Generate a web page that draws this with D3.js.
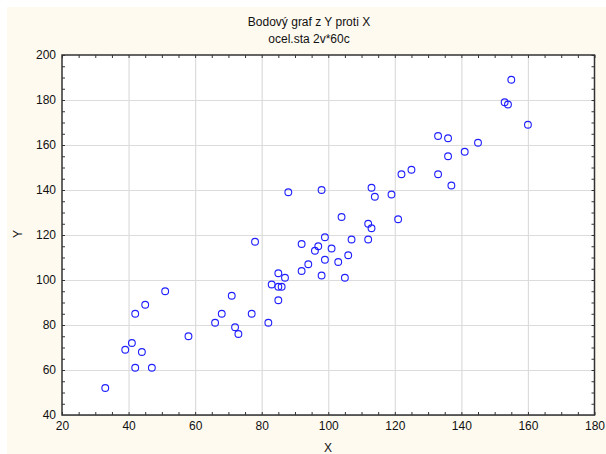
<!DOCTYPE html>
<html><head><meta charset="utf-8">
<script src="https://cdn.jsdelivr.net/npm/d3@7"></script>
<style>body{margin:0;background:#fff}svg{display:block}text{font-family:"Liberation Sans",Arial,sans-serif}</style>
</head><body><svg id="c" width="606" height="454"></svg>
<script>
const xValues=[33,39,41,42,42,44,45,47,51,58,66,68,71,72,73,77,
88,98,113,114,104,112,113,78,92,99,97,96,101,107,112,99,103,106,94,92,98,105,85,87,83,85,86,85,82,
155,153,154,160,133,136,145,141,136,125,122,133,137,119,121];
const yValues=[52,69,72,61,85,68,89,61,95,75,81,85,93,79,76,85,
139,140,141,137,128,125,123,117,116,119,115,113,114,118,118,109,108,111,107,104,102,101,103,101,98,97,97,91,81,
189,179,178,169,164,163,161,157,155,149,147,147,142,138,127];
const xTicks=[20,40,60,80,100,120,140,160,180];
const yTicks=[40,60,80,100,120,140,160,180,200];
const titleLines=["Bodový graf z Y proti X","ocel.sta 2v*60c"];
const xLabel="X", yLabel="Y";

const svg=d3.select("#c");
const L=62,R=594.5,T=55,B=415;
svg.append("rect").attr("x",7).attr("y",7).attr("width",599).attr("height",447).attr("fill","#fefaf0");
svg.append("rect").attr("x",L).attr("y",T).attr("width",R-L).attr("height",B-T).attr("fill","#fff");
const x=d3.scaleLinear().domain([20,180]).range([L,R]);
const y=d3.scaleLinear().domain([40,200]).range([B,T]);
const minorX=d3.range(20,181,5), minorY=d3.range(40,201,5);

// grid
svg.append("g").attr("transform",`translate(0,${B})`)
 .call(d3.axisBottom(x).tickValues(xTicks.slice(1,-1)).tickSize(-(B-T)).tickFormat(""))
 .call(g=>{g.select(".domain").remove();g.selectAll("line").attr("stroke","#dcdcdc").attr("stroke-width",1.2);});
svg.append("g").attr("transform",`translate(${L},0)`)
 .call(d3.axisLeft(y).tickValues(yTicks.slice(1,-1)).tickSize(-(R-L)).tickFormat(""))
 .call(g=>{g.select(".domain").remove();g.selectAll("line").attr("stroke","#dcdcdc").attr("stroke-width",1.2);});

// inward minor ticks on all sides
function st(g){g.select(".domain").remove();g.selectAll("line").attr("stroke","#333");}
svg.append("g").attr("transform",`translate(0,${B})`).call(d3.axisBottom(x).tickValues(minorX).tickSize(-3).tickFormat("")).call(st);
svg.append("g").attr("transform",`translate(0,${T})`).call(d3.axisTop(x).tickValues(minorX).tickSize(-3).tickFormat("")).call(st);
svg.append("g").attr("transform",`translate(${L},0)`).call(d3.axisLeft(y).tickValues(minorY).tickSize(-3).tickFormat("")).call(st);
svg.append("g").attr("transform",`translate(${R},0)`).call(d3.axisRight(y).tickValues(minorY).tickSize(-3).tickFormat("")).call(st);

// labels
svg.append("g").attr("transform",`translate(0,${B})`)
 .call(d3.axisBottom(x).tickValues(xTicks).tickSize(0).tickPadding(6))
 .call(g=>{g.select(".domain").remove();g.selectAll("text").attr("font-size",12).attr("fill","#111").style("font-family","Liberation Sans, Arial, sans-serif");});
svg.append("g").attr("transform",`translate(${L},0)`)
 .call(d3.axisLeft(y).tickValues(yTicks).tickSize(0).tickPadding(6))
 .call(g=>{g.select(".domain").remove();g.selectAll("text").attr("font-size",12).attr("fill","#111").style("font-family","Liberation Sans, Arial, sans-serif");});

// frame
svg.append("rect").attr("x",L).attr("y",T).attr("width",R-L).attr("height",B-T).attr("fill","none").attr("stroke","#333").attr("stroke-width",1.5);
svg.append("line").attr("x1",L).attr("x2",R).attr("y1",B+0.5).attr("y2",B+0.5).attr("stroke","#555").attr("stroke-width",1);

// points
svg.append("g").selectAll("circle").data(xValues.map((v,i)=>[v,yValues[i]])).join("circle")
 .attr("cx",d=>x(d[0])).attr("cy",d=>y(d[1])).attr("r",3.4)
 .attr("fill","none").attr("stroke","#2020ff").attr("stroke-width",1.1);

// titles
svg.selectAll(".t").data(titleLines).join("text").attr("class","t")
 .attr("x",309).attr("y",(d,i)=>26+i*17).attr("text-anchor","middle").attr("font-size",12).attr("fill","#111").text(d=>d);
svg.append("text").attr("x",328).attr("y",452).attr("text-anchor","middle").attr("font-size",12).attr("fill","#111").text(xLabel);
svg.append("text").attr("transform","translate(22,234) rotate(-90)").attr("text-anchor","middle").attr("font-size",12).attr("fill","#111").text(yLabel);
</script></body></html>
